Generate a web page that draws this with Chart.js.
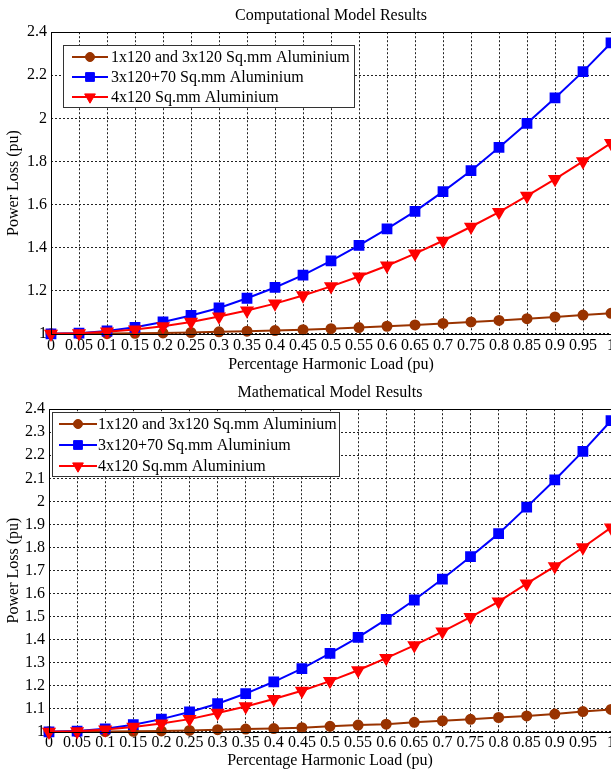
<!DOCTYPE html>
<html>
<head>
<meta charset="utf-8">
<script src="https://cdn.jsdelivr.net/npm/chart.js@4.4.1/dist/chart.umd.min.js"></script>
<style>
  html, body { margin: 0; padding: 0; background: #fff; overflow: hidden; width: 611px; height: 769px; }
  canvas { position: absolute; left: 0; }
  #chartTop { top: 0; }
  #chartBottom { top: 377px; }
</style>
</head>
<body>
<canvas id="chartTop" width="631" height="373"></canvas>
<canvas id="chartBottom" width="631" height="392"></canvas>
<script>
// harmonic load levels (pu) and their tick labels
var loadLevels = [0, 0.05, 0.1, 0.15, 0.2, 0.25, 0.3, 0.35, 0.4, 0.45, 0.5,
                  0.55, 0.6, 0.65, 0.7, 0.75, 0.8, 0.85, 0.9, 0.95, 1];
var xTickLabels = ['0', '0.05', '0.1', '0.15', '0.2', '0.25', '0.3', '0.35', '0.4', '0.45', '0.5',
                   '0.55', '0.6', '0.65', '0.7', '0.75', '0.8', '0.85', '0.9', '0.95', '1'];
var yTicksTop = [1, 1.2, 1.4, 1.6, 1.8, 2, 2.2, 2.4];
var yTicksBottom = [1, 1.1, 1.2, 1.3, 1.4, 1.5, 1.6, 1.7, 1.8, 1.9, 2, 2.1, 2.2, 2.3, 2.4];

var seriesNames = ['1x120 and 3x120 Sq.mm Aluminium', '3x120+70 Sq.mm Aluminium', '4x120 Sq.mm Aluminium'];

// Computational model results
var compSingle = [1.000, 1.000, 1.001, 1.002, 1.004, 1.006, 1.009, 1.012, 1.015, 1.019, 1.024,
                  1.029, 1.035, 1.041, 1.048, 1.055, 1.062, 1.070, 1.078, 1.087, 1.095];
var compNeutral = [1.000, 1.003, 1.013, 1.030, 1.055, 1.085, 1.120, 1.165, 1.215, 1.272, 1.338,
                   1.410, 1.487, 1.568, 1.660, 1.757, 1.865, 1.977, 2.095, 2.217, 2.350];
var compFour = [1.000, 1.002, 1.010, 1.020, 1.035, 1.055, 1.080, 1.108, 1.140, 1.178, 1.220,
                1.266, 1.316, 1.372, 1.432, 1.497, 1.565, 1.640, 1.718, 1.800, 1.885];

// Mathematical model results
var mathSingle = [1.000, 1.000, 1.001, 1.002, 1.004, 1.006, 1.009, 1.012, 1.014, 1.018, 1.024,
                  1.029, 1.033, 1.041, 1.048, 1.054, 1.062, 1.069, 1.077, 1.088, 1.097];
var mathNeutral = [1.000, 1.003, 1.013, 1.031, 1.055, 1.086, 1.122, 1.166, 1.217, 1.274, 1.340,
                   1.410, 1.488, 1.572, 1.663, 1.760, 1.860, 1.975, 2.093, 2.217, 2.350];
var mathFour = [1.000, 1.002, 1.010, 1.021, 1.036, 1.055, 1.082, 1.110, 1.142, 1.178, 1.220,
                1.267, 1.320, 1.375, 1.435, 1.498, 1.565, 1.643, 1.718, 1.800, 1.886];

var serif = "'Liberation Serif', 'Times New Roman', serif";

// draws the axes box and the boxed legend inside the plot (MATLAB style)
var boxLegend = {
  id: 'boxLegend',
  afterDatasetsDraw: function(chart, args, opts) {
    var ctx = chart.ctx, area = chart.chartArea;
    ctx.save();
    ctx.setLineDash([]);
    ctx.strokeStyle = '#000';
    ctx.lineWidth = 1;
    ctx.strokeRect(Math.round(area.left) + 0.5, Math.round(area.top) + 0.5,
                   Math.round(area.right - area.left), Math.round(area.bottom - area.top));

    var x = Math.round(area.left + opts.dx), y = Math.round(area.top + opts.dy);
    ctx.fillStyle = '#fff';
    ctx.fillRect(x, y, opts.w, opts.h);
    ctx.strokeStyle = '#333';
    ctx.strokeRect(x + 0.5, y + 0.5, opts.w, opts.h);

    ctx.font = '16px ' + serif;
    ctx.textBaseline = 'middle';
    ctx.textAlign = 'left';
    chart.data.datasets.forEach(function(ds, i) {
      var ry = y + opts.firstRow + i * opts.rowGap;
      ctx.strokeStyle = ds.borderColor;
      ctx.lineWidth = 2;
      ctx.beginPath();
      ctx.moveTo(x + opts.lineFrom, ry);
      ctx.lineTo(x + opts.lineTo, ry);
      ctx.stroke();
      ctx.fillStyle = ds.pointBackgroundColor;
      ctx.strokeStyle = ds.pointBorderColor;
      ctx.lineWidth = 1;
      Chart.helpers.drawPoint(ctx, {
        pointStyle: ds.pointStyle, radius: ds.pointRadius,
        rotation: ds.pointRotation || 0, borderWidth: 1
      }, x + (opts.lineFrom + opts.lineTo) / 2, ry);
      ctx.fillStyle = '#000';
      ctx.fillText(ds.label, x + opts.textX, ry + 1);
    });
    ctx.restore();
  }
};

function makeSeries(label, values, color, style, radius, rotation, order) {
  return {
    label: label,
    data: loadLevels.map(function(v, i) { return { x: v, y: values[i] }; }),
    borderColor: color,
    backgroundColor: color,
    pointBackgroundColor: color,
    pointBorderColor: color,
    borderWidth: 2,
    pointStyle: style,
    pointRadius: radius,
    pointRotation: rotation,
    tension: 0,
    clip: 12,
    order: order
  };
}

function makeChart(id, title, single, neutral, four, yTicks, yWidth, xPad, legendOpts) {
  return new Chart(document.getElementById(id), {
    type: 'line',
    data: {
      datasets: [
        makeSeries(seriesNames[0], single, '#993300', 'circle', 4.5, 0, 3),
        makeSeries(seriesNames[1], neutral, '#0000ff', 'rect', 6.2, 0, 2),
        makeSeries(seriesNames[2], four, '#ff0000', 'triangle', 6.2, 180, 1)
      ]
    },
    options: {
      responsive: false,
      animation: false,
      layout: { padding: { left: 0, right: 20, top: 0, bottom: 0 } },
      plugins: {
        legend: { display: false },
        tooltip: { enabled: false },
        title: {
          display: true,
          text: title,
          fullSize: false,
          color: '#000',
          font: { family: serif, size: 16, weight: 'normal', lineHeight: 1.2 },
          padding: { top: 6, bottom: 7 }
        },
        boxLegend: legendOpts
      },
      scales: {
        x: {
          type: 'linear',
          min: 0,
          max: 1,
          afterBuildTicks: function(axis) {
            axis.ticks = loadLevels.map(function(v) { return { value: v }; });
          },
          grid: { color: '#222', lineWidth: 1, drawTicks: false, tickLength: 0 },
          border: { display: false, dash: [2, 2] },
          ticks: {
            color: '#000',
            font: { family: serif, size: 16 },
            padding: xPad,
            autoSkip: false,
            maxRotation: 0,
            minRotation: 0,
            callback: function(value, index) { return xTickLabels[index]; }
          },
          title: {
            display: true,
            text: 'Percentage Harmonic Load (pu)',
            color: '#000',
            font: { family: serif, size: 16, lineHeight: 1 },
            padding: 0
          }
        },
        y: {
          type: 'linear',
          min: yTicks[0],
          max: yTicks[yTicks.length - 1],
          afterBuildTicks: function(axis) {
            axis.ticks = yTicks.map(function(v) { return { value: v }; });
          },
          afterFit: function(scale) { scale.width = yWidth; },
          grid: { color: '#222', lineWidth: 1, drawTicks: false, tickLength: 0 },
          border: { display: false, dash: [2, 2] },
          ticks: {
            color: '#000',
            font: { family: serif, size: 16 },
            padding: 4,
            callback: function(value) { return String(value); }
          },
          title: {
            display: true,
            text: 'Power Loss (pu)',
            color: '#000',
            font: { family: serif, size: 16, lineHeight: 1 },
            padding: { top: 6, bottom: 0 }
          }
        }
      }
    },
    plugins: [boxLegend]
  });
}

makeChart('chartTop', 'Computational Model Results', compSingle, compNeutral, compFour,
  yTicksTop, 51, 2,
  { dx: 12, dy: 13, w: 291, h: 62, firstRow: 12, rowGap: 20, lineFrom: 9, lineTo: 45, textX: 48 });

makeChart('chartBottom', 'Mathematical Model Results', mathSingle, mathNeutral, mathFour,
  yTicksBottom, 49, 1,
  { dx: 3, dy: 3, w: 287, h: 64, firstRow: 12, rowGap: 21, lineFrom: 7, lineTo: 45, textX: 46 });
</script>
</body>
</html>
